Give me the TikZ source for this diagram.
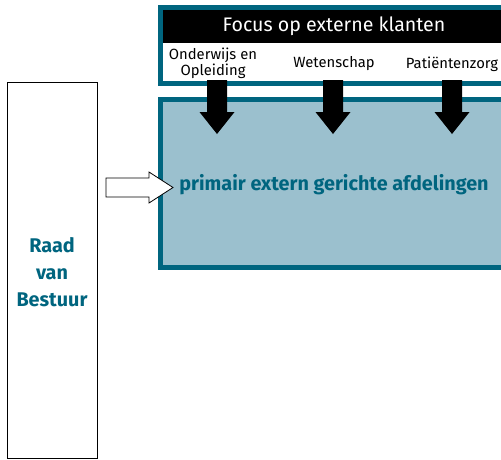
\documentclass[tikz,border=0pt]{standalone}
\usepackage{fontspec}
\setmainfont{Fira Sans}
\usetikzlibrary{arrows.meta}
\definecolor{teal}{HTML}{00657F}
\definecolor{paleblue}{HTML}{9BC0CE}
\tikzset{
  frame/.style={draw=teal, line width=5pt},
  label/.style={font=\fontsize{14.8}{14.8}\selectfont, align=center, inner sep=0pt},
  boldteal/.style={font=\bfseries\fontsize{19.8}{27}\selectfont, text=teal, align=center, inner sep=0pt},
}
\begin{document}
\begin{tikzpicture}[x=1pt,y=-1pt]
  \useasboundingbox (0,0) rectangle (501,459);
  \begin{scope}
    \clip (0,0) rectangle (501,459);
    % top panel: client focus
    \fill[white] (160.5,7.5) rectangle (520,83.5);
    \fill[black] (160.5,7.5) rectangle (520,43);
    \draw[frame] (160.5,7.5) rectangle (520,83.5);
    % lower panel: departments
    \fill[paleblue] (160.5,99.5) rectangle (520,267.5);
    \draw[frame] (160.5,99.5) rectangle (520,267.5);
    % downward block arrows
    \foreach \cx in {217,333,452} {
      \fill[black] (\cx-10,80) -- (\cx+10,80) -- (\cx+10,112) -- (\cx+17.5,112)
        -- (\cx,134) -- (\cx-17.5,112) -- (\cx-10,112) -- cycle;
    }
  \end{scope}
  \node[font=\fontsize{19.6}{19.6}\selectfont, text=white, inner sep=0pt] (focus) at (334,26) {Focus op externe klanten};
  \node[label, font=\fontsize{14.8}{13}\selectfont] (onderwijs) at (213,63) {Onderwijs en\\Opleiding};
  \node[label] (wetenschap) at (334,64) {Wetenschap};
  \node[label] (patient) at (452,64) {Patiëntenzorg};
  \node[boldteal] (primair) at (334,185) {primair extern gerichte afdelingen};
  % board of directors
  \node[draw=black, line width=1pt, minimum width=90pt, minimum height=376pt, inner sep=0pt] (raad) at (52,270) {};
  \node[boldteal] (raadtxt) at (52,272) {Raad\\van\\Bestuur};
  % hollow arrow into the departments panel
  \draw[black, fill=white, line width=0.8pt] (106,178) -- (149,178) -- (149,172) -- (173,187.5)
    -- (149,203) -- (149,197) -- (106,197) -- cycle;
\end{tikzpicture}
\end{document}
